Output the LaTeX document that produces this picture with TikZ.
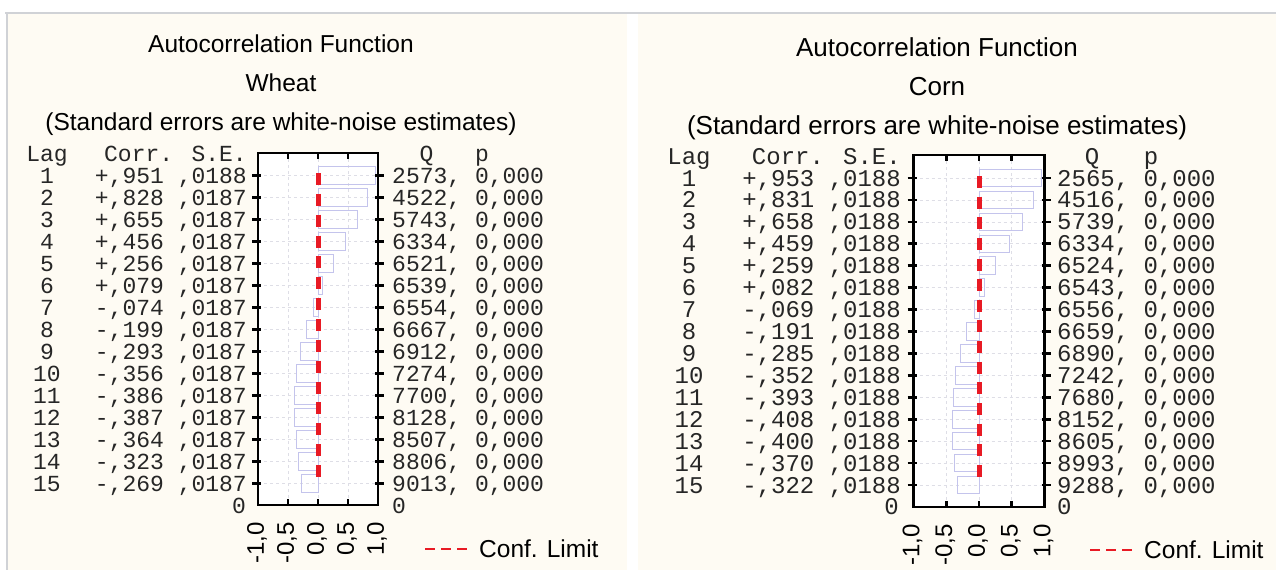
\documentclass[tikz,border=0pt]{standalone}
\usepackage{fontspec}
\setmainfont{Liberation Sans}
\newfontfamily\monof{Liberation Mono}
\definecolor{cream}{RGB}{254,251,243}
\definecolor{frameg}{RGB}{208,210,214}
\definecolor{barc}{RGB}{196,196,236}
\definecolor{gridc}{RGB}{222,222,230}
\definecolor{confr}{RGB}{232,26,36}
\tikzset{
  mono/.style={font=\monof\fontsize{\mf}{\mf}\selectfont, inner sep=0pt, text=black!85},
  titletext/.style={font=\fontsize{\tf}{\tf}\selectfont, inner sep=0pt, anchor=base},
  axlab/.style={font=\fontsize{24}{24}\selectfont, inner sep=0pt},
  legendtext/.style={font=\fontsize{24.5}{24.5}\selectfont, inner sep=0pt},
  gridline/.style={gridc, dashed, line width=0.6pt},
  barbox/.style={barc, line width=1pt},
  tickmark/.style={black, line width=2.6pt},
  boxline/.style={black, line width=2.6pt},
  confline/.style={confr, line width=5pt},
  conflegend/.style={confr, line width=2.5pt, dash pattern=on 10pt off 6pt},
}
\newcommand\acfpanel[2]{%
  \fill[white] (\zx-\ux,\bt) rectangle (\zx+\ux,\bb);
  \foreach \k in {-0.5,0,0.5}{\draw[gridline] ({\zx+\k*\ux},\bt) -- ({\zx+\k*\ux},\bb);}
  \foreach \i in {1,...,15}{\draw[gridline] (\zx-\ux,{\ry+\i*\rs-\rs}) -- (\zx+\ux,{\ry+\i*\rs-\rs});}
  \foreach \i/\sg/\dg/\v/\se/\q in {#2}{%
    \pgfmathsetmacro\yy{\ry+(\i-1)*\rs}%
    \pgfmathsetmacro\xv{\zx+\v*\ux}%
    \draw[barbox] (\zx,\yy-0.4*\rs) rectangle (\xv,\yy+0.4*\rs);
    \node[mono,anchor=base] (#1lag\i) at (\Lx,\yy+8) {\i};
    \node[mono,anchor=base east] (#1corr\i) at (\Cx,\yy+8) {\sg,\dg\ ,\se};
    \node[mono,anchor=base west] (#1q\i) at (\Qx,\yy+8) {\q, 0,000};
    \draw[tickmark] (\zx-\ux-6,\yy) -- (\zx-\ux+3,\yy);
    \draw[tickmark] (\zx+\ux-3,\yy) -- (\zx+\ux+6,\yy);
  }
  \draw[confline, dash pattern=on 12pt off \cg] (\zx,\ct) -- (\zx,\cb);
  \draw[boxline] (\zx-\ux,\bt) rectangle (\zx+\ux,\bb);
  \foreach \k in {-0.5,0,0.5}{%
    \draw[tickmark] ({\zx+\k*\ux},\bt) -- ({\zx+\k*\ux},\bt+6);
    \draw[tickmark] ({\zx+\k*\ux},\bb) -- ({\zx+\k*\ux},\bb-6);}
  \node[mono,anchor=base] (#1laghd) at (\Lx,\ry-\rs+8) {Lag};
  \node[mono,anchor=base east] (#1corrhd) at (\Cx,\ry-\rs+8) {Corr. S.E.};
  \node[mono,anchor=base] (#1qhd) at (\Qh,\ry-\rs+8) {Q};
  \node[mono,anchor=base] (#1phd) at (\Ph,\ry-\rs+8) {p};
  \node[mono,anchor=base east] (#1zl) at (\Zl,\ry+15*\rs+8) {0};
  \node[mono,anchor=base west] (#1zr) at (\Qx,\ry+15*\rs+8) {0};
  \foreach \k/\a/\b [count=\n] in {-1/-1/0,-0.5/-0/5,0/0/0,0.5/0/5,1/1/0}{%
    \node[axlab,rotate=90,anchor=east] (#1ax\n) at ({\zx+\k*\ux-1},\bb+17) {\a,\b};}
  \coordinate (#1la) at (\Lg,\lgy);
  \coordinate (#1lb) at (\Lg+42,\lgy);
  \draw[conflegend] (#1la) -- (#1lb);
  \node[legendtext,anchor=base west] (#1lt) at (\Lg+54,\lgy+8) {Conf. Limit};
  \node[titletext] (#1t1) at (\Tx,\Ty) {Autocorrelation Function};
  \node[titletext] (#1t3) at (\Tx,\Ty+78) {(Standard errors are white-noise estimates)};
}
\begin{document}
\begin{tikzpicture}[x=1pt,y=-1pt]
\useasboundingbox (0,0) rectangle (1276,570);
\fill[white] (0,0) rectangle (1276,570);
\fill[cream] (8,14) rectangle (627,570);
\fill[cream] (638,14) rectangle (1276,570);
\draw[frameg, line width=2pt] (5,13) -- (1276,13);
\draw[frameg, line width=2.5pt] (7,13) -- (7,570);
% ---------- Wheat ----------
\def\mf{23}\def\tf{24.5}
\def\zx{318}\def\ux{60}\def\bt{153}\def\bb{505}
\def\ry{175.5}\def\rs{22}
\def\Lx{47}\def\Cx{247}\def\Qx{392}\def\Qh{426.5}\def\Ph{482}\def\Zl{246}
\def\ct{173}\def\cb{477}\def\cg{8.86pt}
\def\Lg{425}\def\lgy{549}
\def\Tx{281}\def\Ty{52}
\acfpanel{w}{1/+/951/0.951/0188/2573,2/+/828/0.828/0187/4522,3/+/655/0.655/0187/5743,4/+/456/0.456/0187/6334,5/+/256/0.256/0187/6521,6/+/079/0.079/0187/6539,7/-/074/-0.074/0187/6554,8/-/199/-0.199/0187/6667,9/-/293/-0.293/0187/6912,10/-/356/-0.356/0187/7274,11/-/386/-0.386/0187/7700,12/-/387/-0.387/0187/8128,13/-/364/-0.364/0187/8507,14/-/323/-0.323/0187/8806,15/-/269/-0.269/0187/9013}
\node[titletext] (wt2) at (\Tx,\Ty+39) {Wheat};
% ---------- Corn ----------
\def\mf{24}\def\tf{26}
\def\zx{979}\def\ux{65.5}\def\bt{155}\def\bb{507}
\def\ry{178}\def\rs{21.93}
\def\Lx{689}\def\Cx{901}\def\Qx{1057}\def\Qh{1092}\def\Ph{1151}\def\Zl{899}
\def\ct{176}\def\cb{477}\def\cg{8.64pt}
\def\Lg{1090}\def\lgy{550}
\def\Tx{937}\def\Ty{56}
\acfpanel{c}{1/+/953/0.953/0188/2565,2/+/831/0.831/0188/4516,3/+/658/0.658/0188/5739,4/+/459/0.459/0188/6334,5/+/259/0.259/0188/6524,6/+/082/0.082/0188/6543,7/-/069/-0.069/0188/6556,8/-/191/-0.191/0188/6659,9/-/285/-0.285/0188/6890,10/-/352/-0.352/0188/7242,11/-/393/-0.393/0188/7680,12/-/408/-0.408/0188/8152,13/-/400/-0.400/0188/8605,14/-/370/-0.370/0188/8993,15/-/322/-0.322/0188/9288}
\node[titletext] (ct2) at (\Tx,\Ty+39) {Corn};
\end{tikzpicture}
\end{document}
